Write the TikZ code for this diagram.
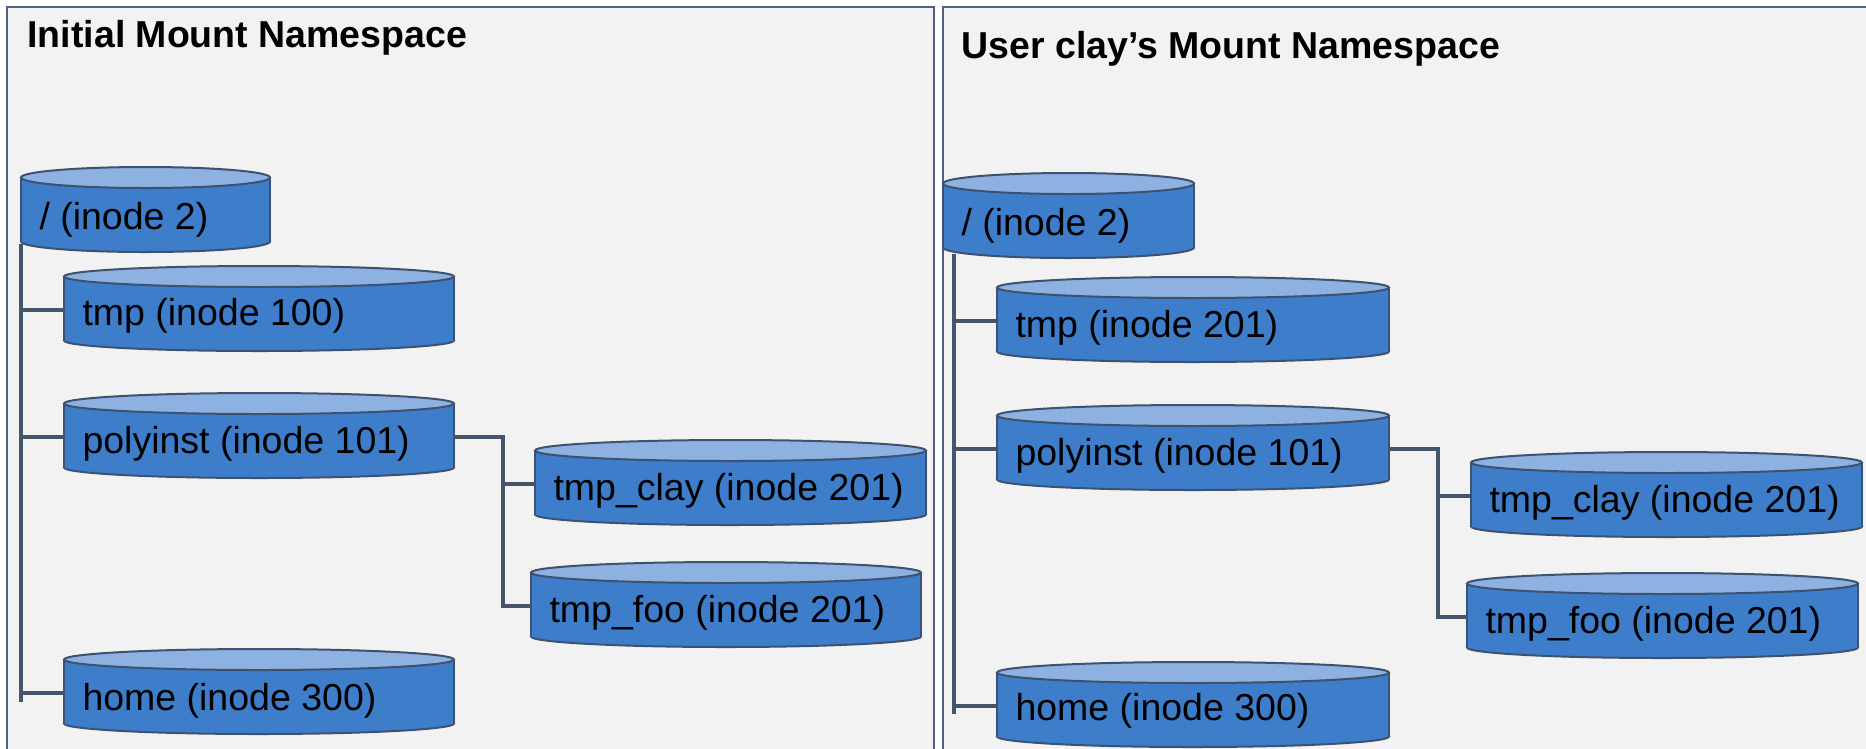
\documentclass[tikz,border=0pt]{standalone}
\usepackage{fontspec}
\setmainfont{Liberation Sans}
\usetikzlibrary{calc}

\definecolor{panelfill}{HTML}{F2F2F2}
\definecolor{panelline}{HTML}{4F6080}
\definecolor{drumbody}{HTML}{3D7DCA}
\definecolor{drumtop}{HTML}{8DB2E2}
\definecolor{drumline}{HTML}{3E5170}
\definecolor{connline}{HTML}{44546A}

\tikzset{
  panel/.style={fill=panelfill, draw=panelline, line width=0.8pt},
  paneltitle/.style={anchor=base west, inner sep=0pt, font=\fontsize{15}{18}\selectfont\bfseries},
  lbl/.style={anchor=base west, inner sep=0pt, font=\fontsize{15}{17}\selectfont},
  conn/.style={draw=connline, line width=1.6pt},
  drumedge/.style={draw=drumline, line width=0.8pt},
}

% \drum{name}{left}{top}{right}{label}{label offset from top}
\newcommand\drum[6]{%
  \pgfmathsetmacro\dcx{(#2+#4)/2}%
  \pgfmathsetmacro\drx{(#4-#2)/2*0.4}%
  \pgfmathsetmacro\dct{#3+10.5}%
  \pgfmathsetmacro\dcb{#3+74.5}%
  \pgfmathsetmacro\dwd{(#4-#2)*0.4}%
  % bottom rim, body and side walls
  \fill[drumbody, drumedge] (\dcx,\dcb) ellipse [x radius=\drx pt, y radius=4.2pt];
  \fill[drumbody] (#2,\dct) rectangle (#4,\dcb);
  \draw[drumedge] (#2,\dct) -- (#2,\dcb) (#4,\dct) -- (#4,\dcb);
  % top lid
  \filldraw[fill=drumtop, drumedge] (\dcx,\dct) ellipse [x radius=\drx pt, y radius=4.2pt];
  % anchor node for the connectors
  \node[inner sep=0pt, minimum width=\dwd pt, minimum height=25.6pt] (#1) at (\dcx,#3+44) {};
  \node[lbl] (#1-text) at (#2+18,#3+#6) {#5};
}

\begin{document}
\begin{tikzpicture}[x=0.4pt, y=-0.4pt]
  \useasboundingbox (0,0) rectangle (1866,748);
  \clip (0,0) rectangle (1866,748);
  \fill[white] (0,0) rectangle (1866,748);

  % the two namespace panels
  \draw[panel] (7,7) rectangle (934,780);
  \draw[panel] (943,7) rectangle (1900,780);
  \node[paneltitle] (titleL) at (27,47) {Initial Mount Namespace};
  \node[paneltitle] (titleR) at (961,58) {User clay’s Mount Namespace};

  % initial namespace
  \drum{rootL}{21}{167}{270}{/ (inode 2)}{62}
  \drum{tmpL}{64}{266}{454}{tmp (inode 100)}{59}
  \drum{polyL}{64}{393}{454}{polyinst (inode 101)}{60}
  \drum{clayL}{535}{440}{926}{tmp\_clay (inode 201)}{60}
  \drum{fooL}{531}{562}{921}{tmp\_foo (inode 201)}{60}
  \drum{homeL}{64}{649}{454}{home (inode 300)}{61}

  % user clay's namespace
  \drum{rootR}{943}{173}{1194}{/ (inode 2)}{62}
  \drum{tmpR}{997}{277}{1389}{tmp (inode 201)}{60}
  \drum{polyR}{997}{405}{1389}{polyinst (inode 101)}{60}
  \drum{clayR}{1471}{452}{1862}{tmp\_clay (inode 201)}{60}
  \drum{fooR}{1467}{573}{1858}{tmp\_foo (inode 201)}{60}
  \drum{homeR}{997}{662}{1389}{home (inode 300)}{58}

  % tree connectors, initial namespace
  \coordinate (trunkL) at (rootL.south west);
  \coordinate (trunkLend) at ($(trunkL |- homeL.west)+(0,9)$);
  \draw[conn] (trunkL) -- (trunkLend);
  \draw[conn] (trunkL |- tmpL.west) -- (tmpL.west);
  \draw[conn] (trunkL |- polyL.west) -- (polyL.west);
  \draw[conn] (trunkL |- homeL.west) -- (homeL.west);
  \coordinate (forkL) at ($(polyL.east)+(48,0)$);
  \draw[conn] (polyL.east) -- (forkL) |- (fooL.west);
  \draw[conn] (forkL |- clayL.west) -- (clayL.west);

  % tree connectors, user clay's namespace
  \coordinate (trunkR) at ($(rootR.south west)+(11,4)$);
  \coordinate (trunkRend) at ($(trunkR |- homeR.west)+(0,8)$);
  \draw[conn] (trunkR) -- (trunkRend);
  \draw[conn] (trunkR |- tmpR.west) -- (tmpR.west);
  \draw[conn] (trunkR |- polyR.west) -- (polyR.west);
  \draw[conn] (trunkR |- homeR.west) -- (homeR.west);
  \coordinate (forkR) at ($(polyR.east)+(48,0)$);
  \draw[conn] (polyR.east) -- (forkR) |- (fooR.west);
  \draw[conn] (forkR |- clayR.west) -- (clayR.west);
\end{tikzpicture}
\end{document}
